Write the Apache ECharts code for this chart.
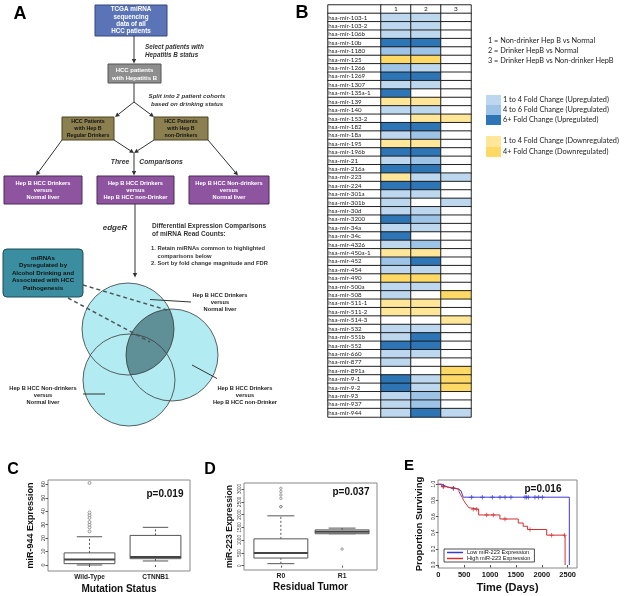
<!DOCTYPE html>
<html><head><meta charset="utf-8">
<script src="https://cdn.jsdelivr.net/npm/echarts@6/dist/echarts.min.js"></script>
<style>html,body{margin:0;padding:0;background:#fff}#c{width:625px;height:596px}</style>
</head><body><div id="c"></div>
<script>
// ---------- Panel B data ----------
const rowNames = ['hsa-mir-103-1','hsa-mir-103-2','hsa-mir-106b','hsa-mir-10b','hsa-mir-1180','hsa-mir-125','hsa-mir-1266','hsa-mir-1269','hsa-mir-1307','hsa-mir-135a-1','hsa-mir-139','hsa-mir-140','hsa-mir-153-2','hsa-mir-182','hsa-mir-18a','hsa-mir-195','hsa-mir-196b','hsa-mir-21','hsa-mir-216a','hsa-mir-223','hsa-mir-224','hsa-mir-301a','hsa-mir-301b','hsa-mir-30d','hsa-mir-3200','hsa-mir-34a','hsa-mir-34c','hsa-mir-4326','hsa-mir-450a-1','hsa-mir-452','hsa-mir-454','hsa-mir-490','hsa-mir-500a','hsa-mir-508','hsa-mir-511-1','hsa-mir-511-2','hsa-mir-514-3','hsa-mir-532','hsa-mir-551b','hsa-mir-552','hsa-mir-660','hsa-mir-877','hsa-mir-891a','hsa-mir-9-1','hsa-mir-9-2','hsa-mir-93','hsa-mir-937','hsa-mir-944'];
const compLabels = ['1','2','3'];
// codes: 3 = 6+ up, 2 = 4-6 up, 1 = 1-4 up, 0 = none, -1 = 1-4 down, -2 = 4+ down
const comp1 = [1,1,1,3,2,-2,2,3,1,3, -1,1,0,3,1,-1,3,1,3,-1, 3,1,1,1,3,1,3,1,-1,2, 1,-2,1,1,-1,-1,0,1,1,3, 1,1,0,3,3,1,1,1];
const comp2 = [1,1,1,3,2,-2,1,3,1,0, -1,1,-1,3,2,-1,3,2,3,1, 3,1,0,1,2,1,0,2,-1,3, 1,-2,1,0,-1,-1,0,1,3,3, 1,0,0,1,1,2,2,3];
const comp3 = [0,0,0,0,0,0,0,0,0,0, 0,0,-1,0,0,0,0,0,0,1, 0,0,1,0,0,0,0,0,0,0, 0,0,0,-2,0,0,-1,0,0,0, 0,0,-2,-2,-2,0,0,1];
const compDesc = ['1 = Non-drinker Hep B vs Normal','2 = Drinker HepB vs Normal','3 = Drinker HepB vs Non-drinker HepB'];
const upLegend = ['1 to 4 Fold Change (Upregulated)','4 to 6 Fold Change (Upregulated)','6+ Fold Change (Upregulated)'];
const downLegend = ['1 to 4 Fold Change (Downregulated)','4+ Fold Change (Downregulated)'];
const codeColors = {'-2':'#ffd966','-1':'#ffe699','0':'#ffffff','1':'#bdd7ee','2':'#9dc3e6','3':'#2e75b6'};

// ---------- Panel C data ----------
const cCats = ['Wild-Type','CTNNB1'];
const cBoxes = [[0,1,4,9,21],[3,4.7,6,22,28]]; // min,q1,median,q3,max
const cOutliers = [[25,28,30,32,35,37,39,61],[]];
const cTicks = [0,10,20,30,40,50,60];

// ---------- Panel D data ----------
const dCats = ['R0','R1'];
const dBoxes = [[80,300,500,1050,1950],[1250,1250,1330,1400,1470]];
const dOutliers = [[2307,2307,2635,2765,2895,3027],[650]];
const dTicks = [0,500,1000,1500,2000,2500,3000];

// ---------- Panel E data ----------
const lowT = [0,64,129,193,322,387,419,438,464,483,2532];
const lowS = [1.0,0.98,0.96,0.95,0.94,0.93,0.92,0.90,0.87,0.84,0.0];
const lowCens = [97,290,644,850,1044,1192,1289,1404,1675,1707,1740,1868,1933,2010];
const highT = [0,64,161,322,400,430,460,490,520,555,590,620,780,1190,1545,1640,1725,2094,2450];
const highS = [1.0,0.97,0.95,0.94,0.91,0.87,0.84,0.80,0.77,0.74,0.71,0.69,0.62,0.57,0.52,0.48,0.44,0.37,0.0];
const highCens = [97,290,676,741,934,1063,1289,1772,2190,2440];
const eXTicks = [0,500,1000,1500,2000,2500];
const eYTicks = [0,0.2,0.4,0.6,0.8,1.0];

// ---------- helpers ----------
const SANS = '"Liberation Sans", Arial, sans-serif';
const CAL = 'Lato, "Open Sans", sans-serif';
const G = [];
function txt(x, y, s, font, opt) {
  G.push({type:'text', z:20, style:Object.assign({text:s, x:x, y:y, font:font, fill:'#111',
    align:'center', verticalAlign:'middle', textAlign:'center', textVerticalAlign:'middle'}, opt||{})});
}
function box(x, y, w, h, fill, stroke, r) {
  G.push({type:'rect', z:10, shape:{x:x, y:y, width:w, height:h, r:r||0}, style:{fill:fill, stroke:stroke, lineWidth:1}});
}
function line(x1, y1, x2, y2, opt) {
  G.push({type:'line', z:12, shape:{x1:x1,y1:y1,x2:x2,y2:y2}, style:Object.assign({stroke:'#333', lineWidth:1}, opt||{})});
}
function arrow(x1, y1, x2, y2) {
  const L = 4.5, W = 2.2;
  const dx = x2-x1, dy = y2-y1, len = Math.hypot(dx,dy), ux = dx/len, uy = dy/len;
  const bx = x2-ux*L, by = y2-uy*L;
  line(x1, y1, bx, by);
  G.push({type:'polygon', z:12, shape:{points:[[x2,y2],[bx-uy*W,by+ux*W],[bx+uy*W,by-ux*W]]}, style:{fill:'#333'}});
}

// ---------- Panel A (flowchart) ----------
txt(20, 14, 'A', 'bold 18px ' + SANS, {fill:'#000'});
txt(302, 13, 'B', 'bold 18px ' + SANS, {fill:'#000'});
box(95, 5, 72, 31, '#5b74b8', '#34467a');
txt(131, 20.5, 'TCGA miRNA\nsequencing\ndata of all\nHCC patients', 'bold 6.3px ' + SANS, {fill:'#fff', lineHeight:7.3});
arrow(134, 36, 134, 63.5);
txt(145, 51, 'Select patients with\nHepatitis B status', 'italic bold 6.3px ' + SANS, {fill:'#333', lineHeight:8, align:'left', textAlign:'left'});
box(108, 64, 53, 19, '#8e8e8e', '#555');
txt(134.5, 74, 'HCC patients\nwith Hepatitis B', 'bold 6px ' + SANS, {fill:'#fff', lineHeight:7.7});
line(134, 83, 134, 102);
txt(187, 100, 'Split into 2 patient cohorts\nbased on drinking status', 'italic bold 6.1px ' + SANS, {fill:'#333', lineHeight:8});
arrow(134, 102, 115, 117);
arrow(134, 102, 154, 117);
box(62, 117, 52, 23, '#8d8050', '#4a4222');
txt(88, 128.5, 'HCC Patients\nwith Hep B\nRegular Drinkers', 'bold 5.3px ' + SANS, {fill:'#111', lineHeight:6.6});
box(154, 117, 54, 23, '#8d8050', '#4a4222');
txt(181, 128.5, 'HCC Patients\nwith Hep B\nnon-Drinkers', 'bold 5.3px ' + SANS, {fill:'#111', lineHeight:6.6});
arrow(114, 140, 134, 153);
arrow(154, 140, 134, 153);
arrow(134, 153, 134, 175.5);
arrow(62, 140, 36, 175.5);
arrow(208, 140, 238, 175.5);
txt(120, 162, 'Three', 'italic bold 6.8px ' + SANS, {fill:'#333'});
txt(161, 162, 'Comparisons', 'italic bold 6.8px ' + SANS, {fill:'#333'});
box(4, 176, 78, 28, '#8e54a0', '#4b2a57');
txt(43, 190, 'Hep B HCC Drinkers\nversus\nNormal liver', 'bold 5.7px ' + SANS, {fill:'#fff', lineHeight:7});
box(97, 176, 77, 28, '#8e54a0', '#4b2a57');
txt(135.5, 190, 'Hep B HCC Drinkers\nversus\nHep B HCC non-Drinker', 'bold 5.7px ' + SANS, {fill:'#fff', lineHeight:7});
box(189, 176, 80, 28, '#8e54a0', '#4b2a57');
txt(229, 190, 'Hep B HCC Non-drinkers\nversus\nNormal liver', 'bold 5.7px ' + SANS, {fill:'#fff', lineHeight:7});
arrow(135, 204, 135, 277.5);
txt(115, 228, 'edgeR', 'italic bold 8px ' + SANS, {fill:'#333'});
txt(152, 230, 'Differential Expression Comparisons\nof miRNA Read Counts:', 'bold 6.5px ' + SANS, {fill:'#333', lineHeight:7.5, align:'left', textAlign:'left'});
txt(151, 256, '1. Retain miRNAs common to highlighted\n    comparisons below\n2. Sort by fold change magnitude and FDR', 'bold 5.8px ' + SANS, {fill:'#333', lineHeight:7.2, align:'left', textAlign:'left'});
box(3, 249, 80, 48, '#3b8e9f', '#1d4d58', 4);
txt(43, 273, 'miRNAs\nDysregulated by\nAlcohol Drinking and\nAssociated with HCC\nPathogenesis', 'bold 6.2px ' + SANS, {fill:'#111', lineHeight:7.5});

// Venn diagram
const circles = [[128,329,46],[172,355,46],[129,380,46]];
circles.forEach(c => G.push({type:'circle', z:5, shape:{cx:c[0],cy:c[1],r:c[2]}, style:{fill:'#b2ebf2'}}));
(function(){
  const a = circles[0], b = circles[1];
  const phi = Math.atan2(b[1]-a[1], b[0]-a[0]);
  const d = Math.hypot(b[0]-a[0], b[1]-a[1]);
  const al = Math.acos(d/2/a[2]);
  const pts = [];
  for (let i=0;i<=40;i++){ const t = phi-al + 2*al*i/40; pts.push([a[0]+a[2]*Math.cos(t), a[1]+a[2]*Math.sin(t)]); }
  for (let i=0;i<=40;i++){ const t = phi+Math.PI-al + 2*al*i/40; pts.push([b[0]+b[2]*Math.cos(t), b[1]+b[2]*Math.sin(t)]); }
  G.push({type:'polygon', z:6, shape:{points:pts}, style:{fill:'#5f9098'}});
})();
circles.forEach(c => G.push({type:'circle', z:7, shape:{cx:c[0],cy:c[1],r:c[2]}, style:{fill:null, stroke:'#3a3a3a', lineWidth:0.8}}));
line(83, 285, 167, 310, {stroke:'#4a5558', lineWidth:1.5, lineDash:[4,3]});
line(68, 298, 150, 342, {stroke:'#4a5558', lineWidth:1.5, lineDash:[4,3]});
line(150, 299.5, 191, 302);
line(192, 365, 217, 378.5);
line(83, 394, 105, 394);
txt(220, 302.5, 'Hep B HCC Drinkers\nversus\nNormal liver', 'bold 5.7px ' + SANS, {fill:'#222', lineHeight:7});
txt(245, 395.5, 'Hep B HCC Drinkers\nversus\nHep B HCC non-Drinker', 'bold 5.7px ' + SANS, {fill:'#222', lineHeight:7});
txt(43, 395.5, 'Hep B HCC Non-drinkers\nversus\nNormal liver', 'bold 5.7px ' + SANS, {fill:'#222', lineHeight:7});

// ---------- Panel B legend text ----------
compDesc.forEach((s,i) => txt(488, 41 + i*10, s, '7.3px ' + CAL, {fill:'#222', align:'left', textAlign:'left'}));
const upCodes = [1,2,3], downCodes = [-1,-2];
upLegend.forEach((s,i) => {
  G.push({type:'rect', z:10, shape:{x:486, y:95+i*10, width:15, height:10}, style:{fill:codeColors[upCodes[i]]}});
  txt(503, 100+i*10, s, '7.3px ' + CAL, {fill:'#222', align:'left', textAlign:'left'});
});
downLegend.forEach((s,i) => {
  G.push({type:'rect', z:10, shape:{x:486, y:136+i*10.5, width:15, height:10.5}, style:{fill:codeColors[downCodes[i]]}});
  txt(503, 141+i*10.5, s, '7.3px ' + CAL, {fill:'#222', align:'left', textAlign:'left'});
});

// ---------- Panel letters + p-values ----------
txt(13, 470, 'C', 'bold 16px ' + SANS, {fill:'#000'});
txt(210, 470, 'D', 'bold 16px ' + SANS, {fill:'#000'});
txt(409, 466, 'E', 'bold 15px ' + SANS, {fill:'#000'});
txt(165, 494, 'p=0.019', 'bold 10px ' + SANS, {fill:'#111'});
txt(351, 492, 'p=0.037', 'bold 10px ' + SANS, {fill:'#111'});
txt(543, 489, 'p=0.016', 'bold 10px ' + SANS, {fill:'#111'});

// ---------- Heatmap data ----------
const nRows = rowNames.length;
const rowCats = [];
for (let i=0;i<=nRows;i++) rowCats.push(String(i));
const nameData = rowCats.map((r,i) => [0, i, 0]);
const comps = [comp1, comp2, comp3];
const valData = [];
comps.forEach((arr,c) => {
  valData.push([c, 0, 0]);
  arr.forEach((v,r) => valData.push([c, r+1, v]));
});

// ---------- boxplot renderer ----------
function boxRenderer(widthRatio) {
  return function(params, api) {
    const x = api.value(0);
    const vals = [1,2,3,4,5].map(k => api.value(k));
    const p = vals.map(v => api.coord([x, v]));
    const hw = api.size([1,0])[0] * widthRatio / 2;
    const cx = p[0][0];
    const dash = {stroke:'#555', lineWidth:1, lineDash:[2,2]};
    const solid = {stroke:'#555', lineWidth:1};
    return {type:'group', children:[
      {type:'line', shape:{x1:cx,y1:p[3][1],x2:cx,y2:p[4][1]}, style:dash},
      {type:'line', shape:{x1:cx,y1:p[0][1],x2:cx,y2:p[1][1]}, style:dash},
      {type:'line', shape:{x1:cx-hw/2,y1:p[4][1],x2:cx+hw/2,y2:p[4][1]}, style:solid},
      {type:'line', shape:{x1:cx-hw/2,y1:p[0][1],x2:cx+hw/2,y2:p[0][1]}, style:solid},
      {type:'rect', shape:{x:cx-hw,y:p[3][1],width:2*hw,height:Math.max(p[1][1]-p[3][1],0.5)}, style:{fill:'#fff', stroke:'#555', lineWidth:1}},
      {type:'line', shape:{x1:cx-hw,y1:p[2][1],x2:cx+hw,y2:p[2][1]}, style:{stroke:'#444', lineWidth:2}}
    ]};
  };
}
const cBoxData = cBoxes.map((b,i) => [i+1].concat(b));
const dBoxData = dBoxes.map((b,i) => [i+1].concat(b));
const cOutData = [], dOutData = [];
cOutliers.forEach((arr,i) => arr.forEach(v => cOutData.push([i+1, v])));
dOutliers.forEach((arr,i) => arr.forEach(v => dOutData.push([i+1, v])));

function survAt(T, S, t) { let s = S[0]; for (let i=0;i<T.length;i++) if (T[i] <= t) s = S[i]; return s; }
const lowLine = lowT.map((t,i) => [t, lowS[i]]);
const highLine = highT.map((t,i) => [t, highS[i]]);
const lowCensData = lowCens.map(t => [t, survAt(lowT, lowS, t)]);
const highCensData = highCens.map(t => [t, survAt(highT, highS, t)]);
const plus = 'path://M4,0H6V4H10V6H6V10H4V6H0V4H4Z';

const frame = {show:true, borderColor:'#888', borderWidth:1, backgroundColor:'transparent'};

const option = {
  animation:false,
  backgroundColor:'#fff',
  graphic:{elements:G},
  visualMap:{type:'piecewise', show:false, dimension:2, seriesIndex:[0,1],
    pieces:[-2,-1,0,1,2,3].map(v => ({value:v, color:codeColors[v]}))},
  legend:{left:444, top:549, orient:'vertical', itemGap:0, itemWidth:16, itemHeight:1.5, icon:'rect',
    borderColor:'#222', borderWidth:0.8, padding:[0.5,4,0.5,3],
    textStyle:{fontSize:5.6, fontFamily:SANS, color:'#111', padding:[0,0,0,-1]},
    data:['Low miR-223 Expression','High miR-223 Expression']},
  grid:[
    {left:328, top:5, width:53, height:412},
    {left:381, top:5, width:90, height:412},
    Object.assign({left:48, top:480, width:142, height:91}, frame),
    Object.assign({left:244, top:483, width:133, height:87}, frame),
    Object.assign({left:438, top:480, width:139, height:88}, frame)
  ],
  xAxis:[
    {gridIndex:0, type:'category', data:['n'], show:false},
    {gridIndex:1, type:'category', data:compLabels, show:false},
    {gridIndex:2, type:'value', min:0.371, max:2.523, axisLine:{show:false}, splitLine:{show:false},
      axisTick:{show:true, length:2, customValues:[1,2], lineStyle:{color:'#555'}},
      axisLabel:{customValues:[1,2], formatter:v => cCats[Math.round(v)-1], fontSize:6.5, fontWeight:'bold', fontFamily:SANS, color:'#222', margin:3},
      name:'Mutation Status', nameLocation:'middle', nameGap:13.5, nameTextStyle:{fontSize:10, fontWeight:'bold', fontFamily:SANS, color:'#111'}},
    {gridIndex:3, type:'value', min:0.398, max:2.57, axisLine:{show:false}, splitLine:{show:false},
      axisTick:{show:true, length:2, customValues:[1,2], lineStyle:{color:'#555'}},
      axisLabel:{customValues:[1,2], formatter:v => dCats[Math.round(v)-1], fontSize:6.8, fontWeight:'bold', fontFamily:SANS, color:'#222', margin:3},
      name:'Residual Tumor', nameLocation:'middle', nameGap:12.5, nameTextStyle:{fontSize:10, fontWeight:'bold', fontFamily:SANS, color:'#111'}},
    {gridIndex:4, type:'value', min:-6, max:2680, axisLine:{show:false}, splitLine:{show:false},
      axisTick:{show:true, length:2.5, customValues:eXTicks, lineStyle:{color:'#555'}},
      axisLabel:{customValues:eXTicks, formatter:v => String(Math.round(v)), fontSize:7.5, fontWeight:'bold', fontFamily:SANS, color:'#111', margin:3},
      name:'Time (Days)', nameLocation:'middle', nameGap:14, nameTextStyle:{fontSize:11, fontWeight:'bold', fontFamily:SANS, color:'#111'}}
  ],
  yAxis:[
    {gridIndex:0, type:'category', data:rowCats, inverse:true, show:false},
    {gridIndex:1, type:'category', data:rowCats, inverse:true, show:false},
    {gridIndex:2, type:'value', min:-4.46, max:63.2, axisLine:{show:false}, splitLine:{show:false},
      axisTick:{show:true, length:2.5, customValues:cTicks, lineStyle:{color:'#555'}},
      axisLabel:{customValues:cTicks, formatter:v => String(Math.round(v)), rotate:90, fontSize:5.5, fontFamily:SANS, color:'#333', margin:2},
      name:'miR-944 Expression', nameLocation:'middle', nameGap:13, nameTextStyle:{fontSize:9, fontWeight:'bold', fontFamily:SANS, color:'#111'}},
    {gridIndex:3, type:'value', min:-168, max:3234, axisLine:{show:false}, splitLine:{show:false},
      axisTick:{show:true, length:2.5, customValues:dTicks, lineStyle:{color:'#555'}},
      axisLabel:{customValues:dTicks, formatter:v => String(Math.round(v)), rotate:90, fontSize:4.6, fontFamily:SANS, color:'#333', margin:2},
      name:'miR-223 Expression', nameLocation:'middle', nameGap:10, nameTextStyle:{fontSize:8.7, fontWeight:'bold', fontFamily:SANS, color:'#111'}},
    {gridIndex:4, type:'value', min:-0.037, max:1.053, axisLine:{show:false}, splitLine:{show:false},
      axisTick:{show:true, length:2.5, customValues:eYTicks, lineStyle:{color:'#555'}},
      axisLabel:{customValues:eYTicks, rotate:90, fontSize:4.8, fontFamily:SANS, color:'#333', margin:2, formatter:v => v.toFixed(1)},
      name:'Proportion Surviving', nameLocation:'middle', nameGap:14, nameTextStyle:{fontSize:9.5, fontWeight:'bold', fontFamily:SANS, color:'#111'}}
  ],
  series:[
    {type:'heatmap', xAxisIndex:0, yAxisIndex:0, data:nameData,
      itemStyle:{borderColor:'#111', borderWidth:0.9},
      label:{show:true, position:'insideLeft', distance:1, formatter:p => p.value[1] === 0 ? '' : rowNames[p.value[1]-1],
        fontSize:6.2, fontFamily:CAL, color:'#222'}},
    {type:'heatmap', xAxisIndex:1, yAxisIndex:1, data:valData,
      itemStyle:{borderColor:'#111', borderWidth:0.9},
      label:{show:true, formatter:p => p.value[1] === 0 ? compLabels[p.value[0]] : '', fontSize:6.5, fontFamily:CAL, color:'#222'}},
    {type:'custom', xAxisIndex:2, yAxisIndex:2, renderItem:boxRenderer(0.77), data:cBoxData, encode:{x:0, y:[1,2,3,4,5]}},
    {type:'scatter', xAxisIndex:2, yAxisIndex:2, data:cOutData, symbol:'circle', symbolSize:3, itemStyle:{color:'#fff', borderColor:'#555', borderWidth:0.7}},
    {type:'custom', xAxisIndex:3, yAxisIndex:3, renderItem:boxRenderer(0.88), data:dBoxData, encode:{x:0, y:[1,2,3,4,5]}},
    {type:'scatter', xAxisIndex:3, yAxisIndex:3, data:dOutData, symbol:'circle', symbolSize:2.4, itemStyle:{color:'#fff', borderColor:'#555', borderWidth:0.7}},
    {name:'Low miR-223 Expression', type:'line', xAxisIndex:4, yAxisIndex:4, data:lowLine, step:'end', showSymbol:false, color:'#3a3ad0', lineStyle:{width:1, color:'#3a3ad0'}},
    {name:'High miR-223 Expression', type:'line', xAxisIndex:4, yAxisIndex:4, data:highLine, step:'end', showSymbol:false, color:'#d03030', lineStyle:{width:1, color:'#d03030'}},
    {name:'lowCens', type:'scatter', xAxisIndex:4, yAxisIndex:4, data:lowCensData, symbol:plus, symbolSize:4.5, itemStyle:{color:'#3a3ad0'}},
    {name:'highCens', type:'scatter', xAxisIndex:4, yAxisIndex:4, data:highCensData, symbol:plus, symbolSize:4.5, itemStyle:{color:'#d03030'}}
  ]
};
const chart = echarts.init(document.getElementById('c'), null, {renderer:'canvas'});
chart.setOption(option);
</script>
</body></html>
